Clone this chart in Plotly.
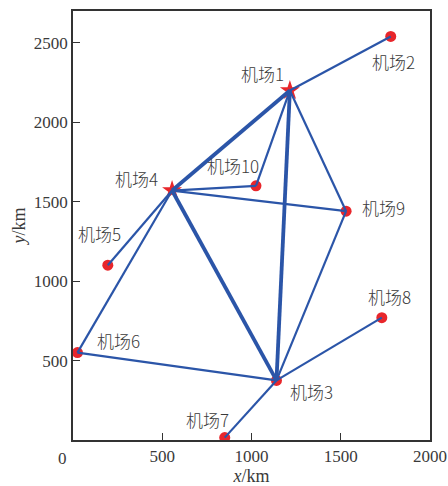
import plotly.graph_objects as go

# Airport data
names = ["机场1", "机场2", "机场3", "机场4", "机场5", "机场6", "机场7", "机场8", "机场9", "机场10"]
xs = [1215, 1780, 1140, 555, 195, 25, 850, 1730, 1530, 1025]
ys = [2200, 2540, 375, 1570, 1100, 550, 15, 770, 1440, 1600]
hubs = [1, 4]

# Routes (airport numbers)
thin_edges = [(1, 2), (1, 10), (1, 9), (4, 10), (4, 9), (4, 5), (4, 6),
              (6, 3), (3, 7), (3, 8), (3, 9)]
thick_edges = [(1, 4), (1, 3), (4, 3)]

x_ticks = [500, 1000, 1500, 2000]
y_ticks = [500, 1000, 1500, 2000, 2500]
origin_label = "0"

# label offsets in pixels (style)
label_shift = {
    1: (-27, 17), 2: (3, -25), 3: (35, -11), 4: (-36, 12), 5: (-8, 32),
    6: (41, 12), 7: (-17, 18), 8: (8, 21), 9: (37, 4), 10: (-23, 20),
}

BLUE = "#2B55A8"
RED = "#E8262B"
SERIF = "Liberation Serif, Times New Roman, serif"
CJK = "Noto Sans CJK SC"
TXT = "#3a3a3a"

fig = go.Figure()

non_hub = [i for i in range(1, 11) if i not in hubs]
fig.add_trace(go.Scatter(
    x=[xs[i - 1] for i in non_hub], y=[ys[i - 1] for i in non_hub],
    mode="markers", marker=dict(color=RED, size=11, symbol="circle"),
    showlegend=False, hoverinfo="skip"))
fig.add_trace(go.Scatter(
    x=[xs[i - 1] for i in hubs], y=[ys[i - 1] for i in hubs],
    mode="markers", marker=dict(color=RED, size=15, symbol="star"),
    showlegend=False, hoverinfo="skip"))


def edge_xy(edges):
    ex, ey = [], []
    for a, b in edges:
        ex += [xs[a - 1], xs[b - 1], None]
        ey += [ys[a - 1], ys[b - 1], None]
    return ex, ey


ex, ey = edge_xy(thin_edges)
fig.add_trace(go.Scatter(x=ex, y=ey, mode="lines", line=dict(color=BLUE, width=2.2),
                         showlegend=False, hoverinfo="skip"))
ex, ey = edge_xy(thick_edges)
fig.add_trace(go.Scatter(x=ex, y=ey, mode="lines", line=dict(color=BLUE, width=3.8),
                         showlegend=False, hoverinfo="skip"))

for i, n in enumerate(names, start=1):
    dx, dy = label_shift[i]
    fig.add_annotation(x=xs[i - 1], y=ys[i - 1], text=n, showarrow=False,
                       xshift=dx, yshift=dy,
                       font=dict(family=CJK + ", " + SERIF, size=17, color=TXT, weight=300))

fig.add_annotation(x=0, y=0, xref="x", yref="y", text=origin_label, showarrow=False,
                   xshift=-11, yshift=-18,
                   font=dict(family=SERIF, size=17, color=TXT))

axis_common = dict(
    showgrid=False, zeroline=False, showline=True, linecolor="#333333", linewidth=1.5,
    mirror=True, ticks="inside", ticklen=7, tickwidth=1.3, tickcolor="#333333",
    tickfont=dict(family=SERIF, size=17, color=TXT), automargin=False,
)

fig.update_layout(
    width=448, height=486,
    margin=dict(l=73, r=18, t=11, b=46),
    paper_bgcolor="white", plot_bgcolor="white",
    xaxis=dict(range=[0, 2000], tickvals=x_ticks, ticktext=[str(v) for v in x_ticks],
               title=dict(text="<i>x</i>/km", font=dict(family=SERIF, size=18, color=TXT),
                          standoff=4),
               **axis_common),
    yaxis=dict(range=[0, 2700], tickvals=y_ticks, ticktext=[str(v) for v in y_ticks],
               title=dict(text="<i>y</i>/km", font=dict(family=SERIF, size=18, color=TXT),
                          standoff=4),
               **axis_common),
)

fig.write_html("out.html", config={"displayModeBar": False},
               post_script="document.body.style.margin='0';document.body.style.overflow='hidden';")
